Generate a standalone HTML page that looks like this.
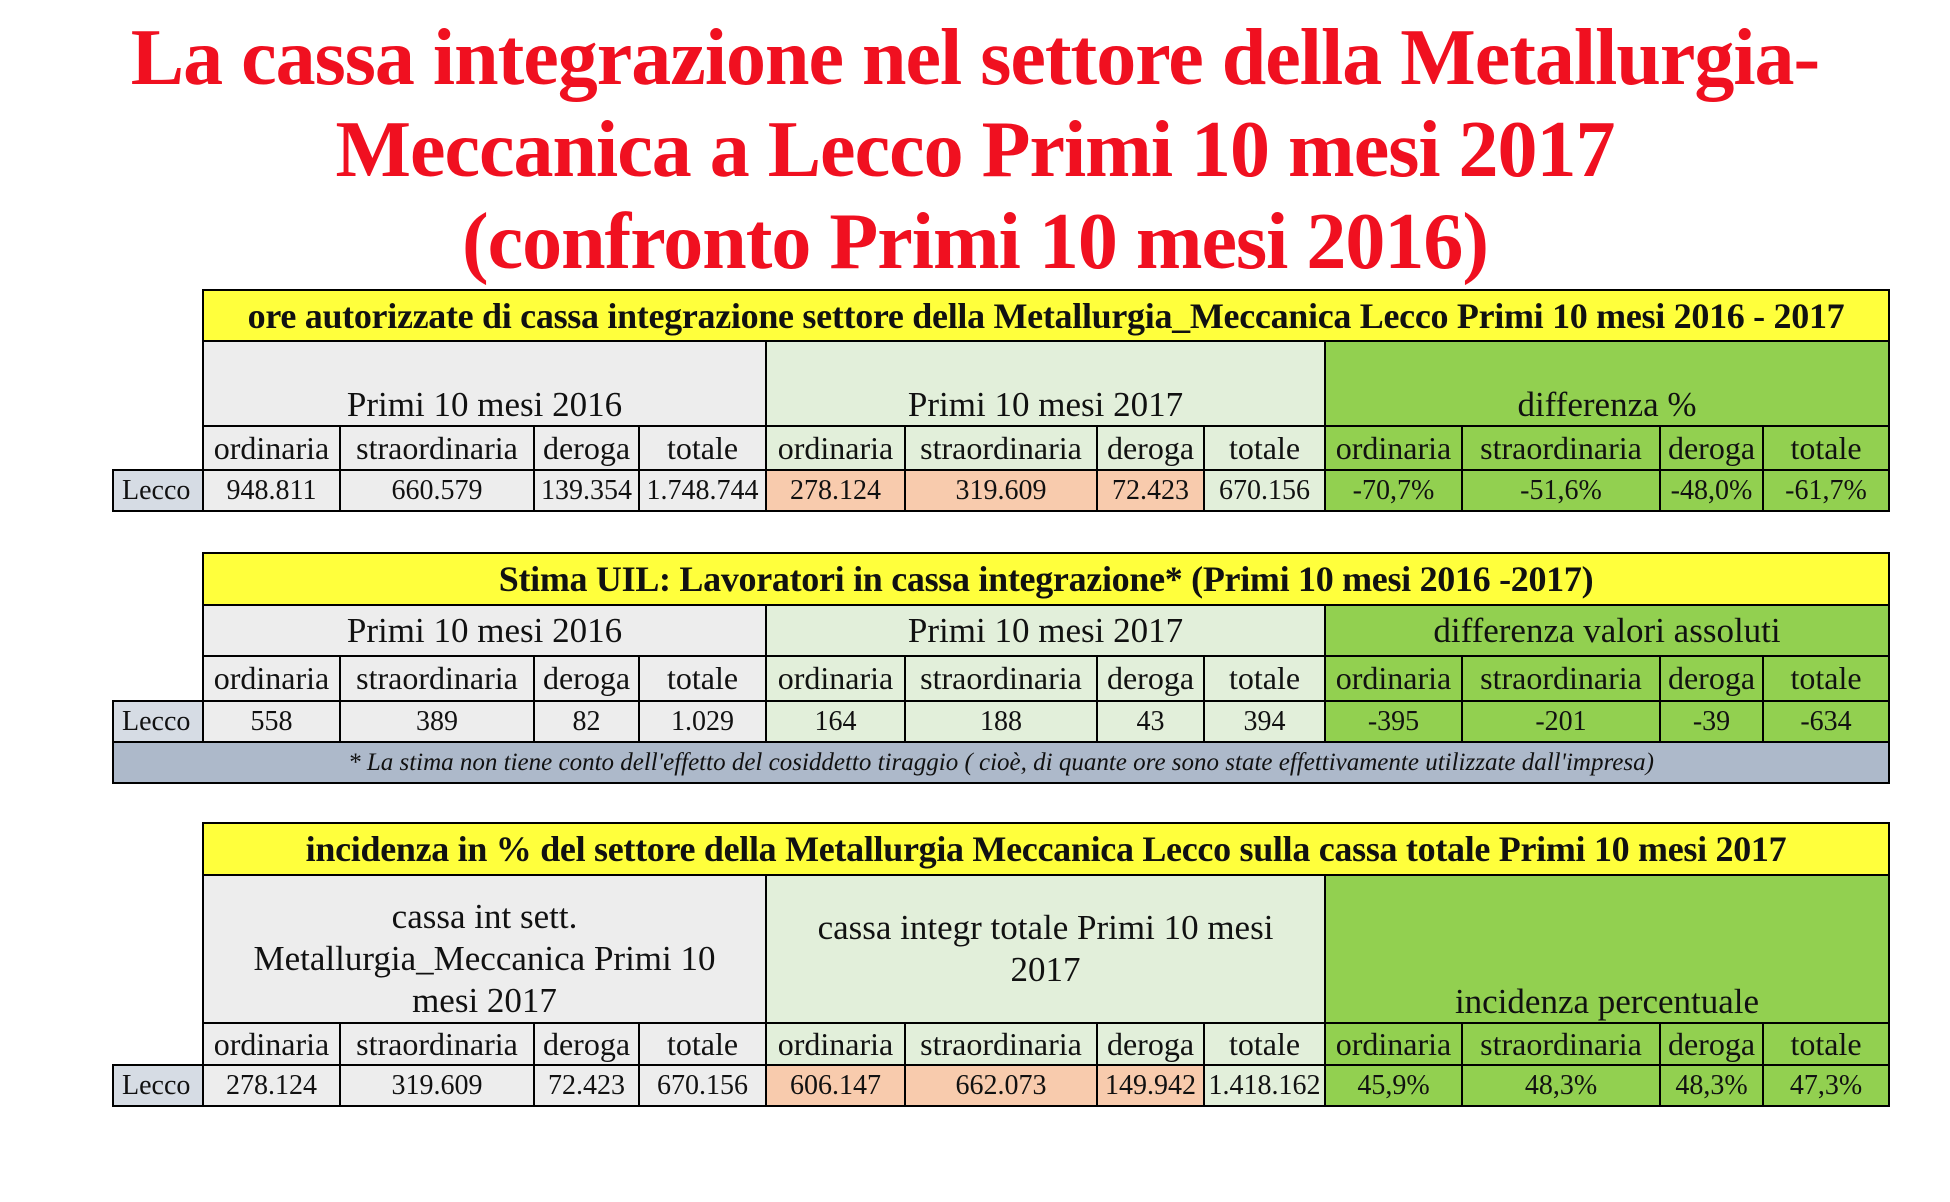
<!DOCTYPE html>
<html><head><meta charset="utf-8"><style>
body{margin:0;width:1950px;height:1202px;background:#fff;position:relative;overflow:hidden;font-family:"Liberation Serif",serif;}
.t{position:absolute;left:0;top:12px;width:1950px;text-align:center;color:#f01020;font-size:80px;font-weight:bold;line-height:92px;letter-spacing:-1px}
table{position:absolute;left:112px;border-collapse:collapse;table-layout:fixed;font-size:28px;color:#111}
td{border:2px solid #000;text-align:center;padding:0;white-space:nowrap;overflow:hidden}
td.e{border:none;background:#fff}
.y{background:#ffff3c;font-size:36px;font-weight:bold;letter-spacing:-0.3px}
.h{font-size:35px}
.s td{font-size:32px}
.s td.e{font-size:28px}
.g{background:#ededed}.l{background:#e2efda}.G{background:#92d050}.p{background:#f8cbad}
.L{background:#d6dce4;text-align:left;padding-left:8px}
.b{vertical-align:bottom}
.n{background:#adb9ca;font-style:italic;font-size:25px}
</style></head><body>
<div class="t">La cassa integrazione nel settore della Metallurgia-<br>Meccanica a Lecco Primi 10 mesi 2017<br>(confronto Primi 10 mesi 2016)</div>

<table style="top:289px">
<colgroup><col style="width:90px"><col style="width:137px"><col style="width:194px"><col style="width:105px"><col style="width:127px"><col style="width:139px"><col style="width:192px"><col style="width:107px"><col style="width:121px"><col style="width:137px"><col style="width:198px"><col style="width:103px"><col style="width:126px"></colgroup>
<tr style="height:51px"><td class="e"></td><td colspan="12" class="y">ore autorizzate di cassa integrazione settore della Metallurgia_Meccanica Lecco Primi 10 mesi 2016 - 2017</td></tr>
<tr style="height:85px"><td class="e"></td><td colspan="4" class="g b h">Primi 10 mesi 2016</td><td colspan="4" class="l b h">Primi 10 mesi 2017</td><td colspan="4" class="G b h">differenza %</td></tr>
<tr class="s" style="height:44px"><td class="e"></td><td class="g">ordinaria</td><td class="g">straordinaria</td><td class="g">deroga</td><td class="g">totale</td><td class="l">ordinaria</td><td class="l">straordinaria</td><td class="l">deroga</td><td class="l">totale</td><td class="G">ordinaria</td><td class="G">straordinaria</td><td class="G">deroga</td><td class="G">totale</td></tr>
<tr style="height:41px"><td class="L">Lecco</td><td class="g">948.811</td><td class="g">660.579</td><td class="g">139.354</td><td class="g">1.748.744</td><td class="p">278.124</td><td class="p">319.609</td><td class="p">72.423</td><td class="l">670.156</td><td class="G">-70,7%</td><td class="G">-51,6%</td><td class="G">-48,0%</td><td class="G">-61,7%</td></tr>
</table>

<table style="top:552px">
<colgroup><col style="width:90px"><col style="width:137px"><col style="width:194px"><col style="width:105px"><col style="width:127px"><col style="width:139px"><col style="width:192px"><col style="width:107px"><col style="width:121px"><col style="width:137px"><col style="width:198px"><col style="width:103px"><col style="width:126px"></colgroup>
<tr style="height:52px"><td class="e"></td><td colspan="12" class="y">Stima UIL: Lavoratori in cassa integrazione* (Primi 10 mesi 2016 -2017)</td></tr>
<tr style="height:51px"><td class="e"></td><td colspan="4" class="g h">Primi 10 mesi 2016</td><td colspan="4" class="l h">Primi 10 mesi 2017</td><td colspan="4" class="G h">differenza valori assoluti</td></tr>
<tr class="s" style="height:45px"><td class="e"></td><td class="g">ordinaria</td><td class="g">straordinaria</td><td class="g">deroga</td><td class="g">totale</td><td class="l">ordinaria</td><td class="l">straordinaria</td><td class="l">deroga</td><td class="l">totale</td><td class="G">ordinaria</td><td class="G">straordinaria</td><td class="G">deroga</td><td class="G">totale</td></tr>
<tr style="height:41px"><td class="L">Lecco</td><td class="g">558</td><td class="g">389</td><td class="g">82</td><td class="g">1.029</td><td class="l">164</td><td class="l">188</td><td class="l">43</td><td class="l">394</td><td class="G">-395</td><td class="G">-201</td><td class="G">-39</td><td class="G">-634</td></tr>
<tr style="height:41px"><td colspan="13" class="n">* La stima non tiene conto dell'effetto del cosiddetto tiraggio ( cioè, di quante ore sono state effettivamente utilizzate dall'impresa)</td></tr>
</table>

<table style="top:822px">
<colgroup><col style="width:90px"><col style="width:137px"><col style="width:194px"><col style="width:105px"><col style="width:127px"><col style="width:139px"><col style="width:192px"><col style="width:107px"><col style="width:121px"><col style="width:137px"><col style="width:198px"><col style="width:103px"><col style="width:126px"></colgroup>
<tr style="height:52px"><td class="e"></td><td colspan="12" class="y">incidenza in % del settore della Metallurgia Meccanica Lecco sulla cassa totale Primi 10 mesi 2017</td></tr>
<tr style="height:148px"><td class="e"></td><td colspan="4" class="g h" style="white-space:normal;line-height:42px;vertical-align:bottom">cassa int sett.<br>Metallurgia_Meccanica Primi 10<br>mesi 2017</td><td colspan="4" class="l h" style="white-space:normal;line-height:42px">cassa integr totale Primi 10 mesi<br>2017</td><td colspan="4" class="G b h">incidenza percentuale</td></tr>
<tr class="s" style="height:42px"><td class="e"></td><td class="g">ordinaria</td><td class="g">straordinaria</td><td class="g">deroga</td><td class="g">totale</td><td class="l">ordinaria</td><td class="l">straordinaria</td><td class="l">deroga</td><td class="l">totale</td><td class="G">ordinaria</td><td class="G">straordinaria</td><td class="G">deroga</td><td class="G">totale</td></tr>
<tr style="height:41px"><td class="L">Lecco</td><td class="g">278.124</td><td class="g">319.609</td><td class="g">72.423</td><td class="g">670.156</td><td class="p">606.147</td><td class="p">662.073</td><td class="p">149.942</td><td class="l">1.418.162</td><td class="G">45,9%</td><td class="G">48,3%</td><td class="G">48,3%</td><td class="G">47,3%</td></tr>
</table>
</body></html>
